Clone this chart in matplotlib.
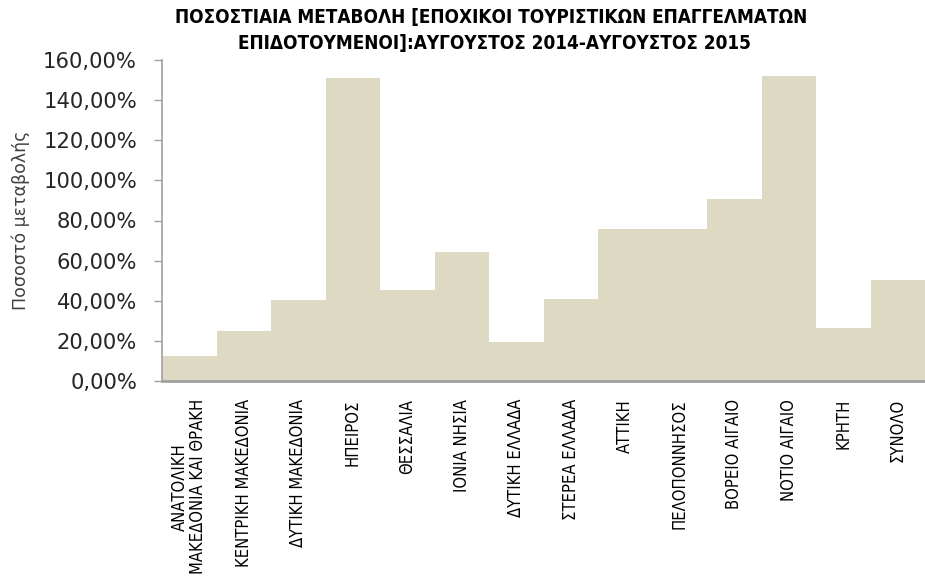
import matplotlib
matplotlib.use("Agg")
import matplotlib.pyplot as plt
from matplotlib import font_manager as fm
from matplotlib.ticker import FuncFormatter

categories = ["ΑΝΑΤΟΛΙΚΗ\nΜΑΚΕΔΟΝΙΑ ΚΑΙ ΘΡΑΚΗ", "ΚΕΝΤΡΙΚΗ ΜΑΚΕΔΟΝΙΑ", "ΔΥΤΙΚΗ ΜΑΚΕΔΟΝΙΑ",
              "ΗΠΕΙΡΟΣ", "ΘΕΣΣΑΛΙΑ", "ΙΟΝΙΑ ΝΗΣΙΑ", "ΔΥΤΙΚΗ ΕΛΛΑΔΑ", "ΣΤΕΡΕΑ ΕΛΛΑΔΑ",
              "ΑΤΤΙΚΗ", "ΠΕΛΟΠΟΝΝΗΣΟΣ", "ΒΟΡΕΙΟ ΑΙΓΑΙΟ", "ΝΟΤΙΟ ΑΙΓΑΙΟ", "ΚΡΗΤΗ", "ΣΥΝΟΛΟ"]
values = [12.5, 25.0, 40.2, 151.2, 45.5, 64.3, 19.2, 40.7, 76.0, 76.0, 90.5, 151.8, 26.2, 50.2]
yticks = [0, 20, 40, 60, 80, 100, 120, 140, 160]

cond = [f for f in fm.fontManager.ttflist if f.name == "DejaVu Sans" and f.stretch == "condensed"]
has_cond = len(cond) > 0
stretch = "condensed" if has_cond else "normal"

fig = plt.figure(figsize=(9.25, 5.77), dpi=100)
ax = fig.add_axes([162/925, 1-381/577, 1-162/925, (381-60)/577])

x = list(range(len(values)))
ax.bar(x, values, width=1.0, color="#DDD9C3", edgecolor="none")
ax.set_xlim(-0.5, len(values) - 0.5)
ax.set_ylim(0, 160)
ax.set_yticks(yticks)
ax.yaxis.set_major_formatter(FuncFormatter(lambda v, p: f"{v:.2f}".replace(".", ",") + "%"))
ax.tick_params(axis="y", direction="out", length=6, width=1, color="#A0A0A0",
               labelsize=14, labelcolor="#262626", pad=12)
ax.set_xticks(x)
ax.set_xticklabels(categories, rotation=90, fontstretch=stretch,
                   fontsize=12, color="black", linespacing=1.0)
ax.tick_params(axis="x", length=0, pad=13)
for s in ["top", "right"]:
    ax.spines[s].set_visible(False)
ax.spines["left"].set_color("#A0A0A0")
ax.spines["left"].set_linewidth(1.2)
ax.spines["bottom"].set_color("#A0A0A0")
ax.spines["bottom"].set_linewidth(2)

ylab = ax.set_ylabel("Ποσοστό μεταβολής", fontsize=13, color="#404040")
ax.yaxis.set_label_coords(-0.173, 0.5)

t1 = fig.text(491/925, 1-17/577, "ΠΟΣΟΣΤΙΑΙΑ ΜΕΤΑΒΟΛΗ [ΕΠΟΧΙΚΟΙ ΤΟΥΡΙΣΤΙΚΩΝ ΕΠΑΓΓΕΛΜΑΤΩΝ",
              ha="center", va="center", fontweight="bold", fontstretch=stretch,
              fontsize=13.5, color="black")
t2 = fig.text(494/925, 1-44/577, "ΕΠΙΔΟΤΟΥΜΕΝΟΙ]:ΑΥΓΟΥΣΤΟΣ 2014-ΑΥΓΟΥΣΤΟΣ 2015",
              ha="center", va="center", fontweight="bold", fontstretch=stretch,
              fontsize=13.5, color="black")

# fit text sizes to the reference's measured extents (pixels)
fig.canvas.draw()
r = fig.canvas.get_renderer()

def fit(artists, measure, target):
    w = measure(artists[0].get_window_extent(r))
    if w > 0:
        s = artists[0].get_fontsize() * target / w
        for a in artists:
            a.set_fontsize(s)

ylabels = ax.get_yticklabels()
fit([ylabels[-1]] + list(ylabels[:-1]), lambda b: b.width, 94)
fit([t1, t2], lambda b: b.width, 633)
xl = ax.get_xticklabels()
fit([xl[1]] + [l for i, l in enumerate(xl) if i != 1], lambda b: b.height, 168)
fit([ylab], lambda b: b.height, 178)

fig.savefig("out.png", dpi=100)
